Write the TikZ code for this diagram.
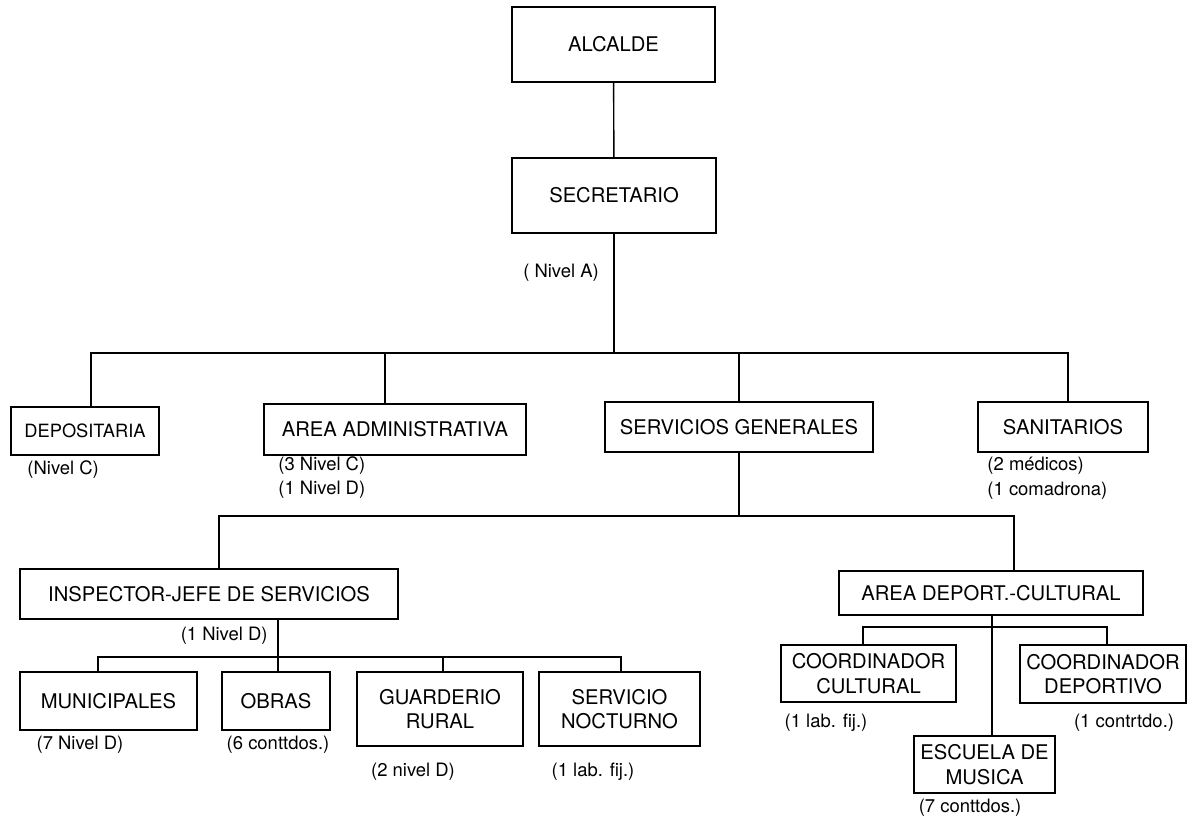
\documentclass[tikz,border=0pt]{standalone}
\usepackage{fontspec}
\setmainfont{TeX Gyre Heros}
\usetikzlibrary{positioning}

\begin{document}
\begin{tikzpicture}[x=0.02cm,y=-0.02cm,line width=0.8pt,
                    org node/.style={rectangle,draw,align=center,inner sep=2pt,font=\fontsize{11.5}{14}\selectfont},
                    note/.style={inner sep=1pt,font=\fontsize{10.5}{12}\selectfont}]
  \useasboundingbox (0,0) rectangle (1195,821);

  \node[org node,minimum width=4.06cm,minimum height=1.5cm] (alcalde) at (613.5,44.5) {ALCALDE};
  \node[org node,minimum width=4.08cm,minimum height=1.5cm] (secretario) at (614,195.5) {SECRETARIO};

  \node[org node,minimum width=2.96cm,minimum height=0.96cm,font=\fontsize{10.4}{12}\selectfont] (depositaria) at (85,431) {DEPOSITARIA};
  \node[org node,minimum width=5.24cm,minimum height=1.02cm] (admin) at (395,429.5) {AREA ADMINISTRATIVA};
  \node[org node,minimum width=5.36cm,minimum height=1.0cm] (servicios) at (739,427) {SERVICIOS GENERALES};
  \node[org node,minimum width=3.4cm,minimum height=1.0cm] (sanitarios) at (1063,427) {SANITARIOS};

  \node[org node,minimum width=7.56cm,minimum height=1.0cm] (inspector) at (209,594) {INSPECTOR-JEFE DE SERVICIOS};
  \node[org node,minimum width=6.08cm,minimum height=0.88cm] (deport) at (991,593) {AREA DEPORT.-CULTURAL};

  \node[org node,minimum width=3.54cm,minimum height=1.16cm] (municipales) at (108.5,701) {MUNICIPALES};
  \node[org node,minimum width=2.16cm,minimum height=1.16cm] (obras) at (276,701) {OBRAS};
  \node[org node,minimum width=3.32cm,minimum height=1.48cm] (guarderio) at (440,709) {GUARDERIO\\RURAL};
  \node[org node,minimum width=3.22cm,minimum height=1.48cm] (nocturno) at (619.5,709) {SERVICIO\\NOCTURNO};

  \node[org node,minimum width=3.5cm,minimum height=1.14cm] (cultural) at (868.5,673.5) {COORDINADOR\\CULTURAL};
  \node[org node,minimum width=3.32cm,minimum height=1.16cm] (deportivo) at (1103,674) {COORDINADOR\\DEPORTIVO};
  \node[org node,minimum width=2.82cm,minimum height=1.14cm] (escuela) at (984.5,764.5) {ESCUELA DE\\MUSICA};

  % staff notes
  \node[note] (nivA) at (561,273) {( Nivel A)};
  \node[note,anchor=west] (depC) at (25,470) {(Nivel C)};
  \node[note,anchor=west] (admC) at (276,466) {(3 Nivel C)};
  \node[note,anchor=west] (admD) at (276,490) {(1 Nivel D)};
  \node[note,anchor=west] (sanMed) at (985,466) {(2 médicos)};
  \node[note,anchor=west] (sanCom) at (985,491) {(1 comadrona)};
  \node[note,anchor=east] (inspD) at (270,636) {(1 Nivel D)};
  \node[note] (munD) at (80,745) {(7 Nivel D)};
  \node[note] (obrCt) at (278,745) {(6 conttdos.)};
  \node[note] (guaD) at (413,772) {(2 nivel D)};
  \node[note] (nocLab) at (593,772) {(1 lab. fij.)};
  \node[note] (culLab) at (826,723) {(1 lab. fij.)};
  \node[note] (depCt) at (1124,723) {(1 contrtdo.)};
  \node[note] (escCt) at (970,808) {(7 conttdos.)};

  \coordinate (topbus) at (614,353);
  \coordinate (midbus) at (739,516);
  \coordinate (inspbus) at (278,657);
  \coordinate (deptbus) at (992,627);

  \draw (alcalde) -- (secretario);
  \draw (secretario) -- (topbus);
  \draw (topbus) -| (depositaria.north -| 91,0);
  \draw (topbus) -| (admin.north -| 385,0);
  \draw (topbus) -| (servicios);
  \draw (topbus) -| (sanitarios.north -| 1068,0);

  \draw (servicios) -- (midbus);
  \draw (midbus) -| (inspector.north -| 219,0);
  \draw (midbus) -| (deport.north -| 1014,0);

  \draw (inspector.south -| inspbus) -- (obras.north -| inspbus);
  \draw (inspbus) -| (municipales.north -| 98,0);
  \draw (inspbus) -| (guarderio.north -| 443,0);
  \draw (inspbus) -| (nocturno.north -| 621,0);

  \draw (deport.south -| deptbus) -- (escuela.north -| deptbus);
  \draw (deptbus) -| (cultural.north -| 863,0);
  \draw (deptbus) -| (deportivo.north -| 1107,0);
\end{tikzpicture}
\end{document}
